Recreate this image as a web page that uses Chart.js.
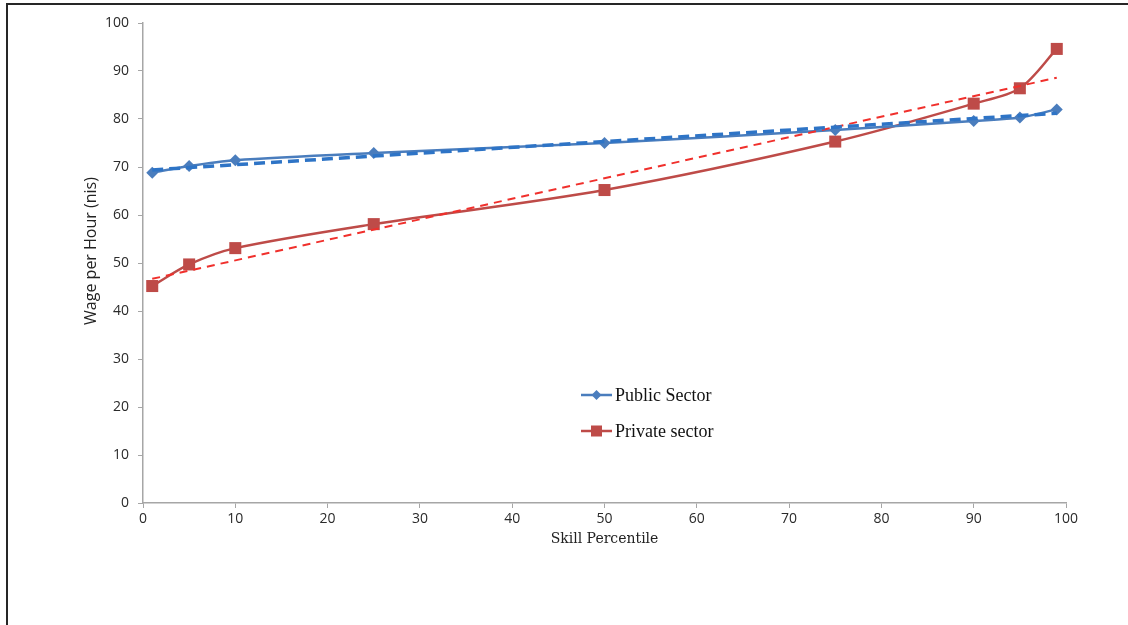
<!DOCTYPE html>
<html>
<head>
<meta charset="utf-8">
<title>Wage per Hour by Skill Percentile</title>
<script src="https://cdn.jsdelivr.net/npm/chart.js@4"></script>
<style>
    html, body { margin: 0; padding: 0; background: #fff; }
    #wrap { position: relative; width: 1128px; height: 625px; overflow: hidden; }
    #frame {
        position: absolute; left: 6px; top: 3px; right: -10px; bottom: -10px;
        border-top: 2px solid #262626; border-left: 2px solid #262626;
        pointer-events: none;
    }
    canvas { position: absolute; left: 0; top: 0; }
</style>
</head>
<body>
<div id="wrap">
    <canvas id="chart" width="1128" height="625"></canvas>
    <div id="frame"></div>
</div>
<script>
// Skill percentiles and hourly wages (nis)
const percentiles = [1, 5, 10, 25, 50, 75, 90, 95, 99];
const publicWage = [68.8, 70.2, 71.4, 72.9, 75.0, 77.7, 79.6, 80.3, 82.0];
const privateWage = [45.2, 49.7, 53.1, 58.1, 65.2, 75.3, 83.2, 86.4, 94.6];

// Linear trend lines (start and end of the fitted lines)
const trendX = [1, 99];
const publicTrend = [69.4, 81.2];
const privateTrend = [46.7, 88.6];

const yTicks = [0, 10, 20, 30, 40, 50, 60, 70, 80, 90, 100];
const xTicks = [0, 10, 20, 30, 40, 50, 60, 70, 80, 90, 100];

const yTitle = 'Wage per Hour (nis)';
const xTitle = 'Skill Percentile';

const toPoints = (xs, ys) => xs.map((x, i) => ({ x: x, y: ys[i] }));

const blue = '#4a7dbd';
const red = '#be4b48';

// Legend drawn inside the plot area
const innerLegend = {
    id: 'innerLegend',
    afterDraw(chart) {
        const ctx = chart.ctx;
        const items = chart.data.datasets.filter(d => d.inLegend);
        const x0 = 581;
        let y = 395;
        ctx.save();
        items.forEach(ds => {
            ctx.strokeStyle = ds.borderColor;
            ctx.lineWidth = 2.5;
            ctx.beginPath();
            ctx.moveTo(x0, y);
            ctx.lineTo(x0 + 31, y);
            ctx.stroke();
            ctx.fillStyle = ds.pointBackgroundColor;
            if (ds.pointStyle === 'rect') {
                ctx.fillRect(x0 + 10, y - 5.5, 11, 11);
            } else {
                ctx.beginPath();
                ctx.moveTo(x0 + 15.5, y - 5);
                ctx.lineTo(x0 + 20.5, y);
                ctx.lineTo(x0 + 15.5, y + 5);
                ctx.lineTo(x0 + 10.5, y);
                ctx.closePath();
                ctx.fill();
            }
            ctx.fillStyle = '#111';
            ctx.font = '18px "Liberation Serif", "DejaVu Serif", serif';
            ctx.textBaseline = 'middle';
            ctx.fillText(ds.label, x0 + 34, y + 1);
            y += 36;
        });
        ctx.restore();
    }
};

// Axis titles placed relative to the plot area
const axisTitles = {
    id: 'axisTitles',
    afterDraw(chart) {
        const ctx = chart.ctx;
        const area = chart.chartArea;
        ctx.save();
        ctx.fillStyle = '#222';
        ctx.textAlign = 'center';
        ctx.textBaseline = 'middle';
        ctx.font = '16px "Open Sans", sans-serif';
        ctx.translate(area.left - 52, (area.top + area.bottom) / 2 - 12);
        ctx.rotate(-Math.PI / 2);
        ctx.fillText(yTitle, 0, 0);
        ctx.restore();

        ctx.save();
        ctx.fillStyle = '#222';
        ctx.textAlign = 'center';
        ctx.textBaseline = 'middle';
        ctx.font = '14px "DejaVu Serif", serif';
        ctx.fillText(xTitle, (area.left + area.right) / 2, area.bottom + 36);
        ctx.restore();
    }
};

new Chart(document.getElementById('chart'), {
    type: 'line',
    data: {
        datasets: [
            {
                label: 'Public Sector trend',
                data: toPoints(trendX, publicTrend),
                borderColor: '#2e74c6',
                borderWidth: 3.5,
                borderDash: [11, 6],
                pointRadius: 0,
                tension: 0
            },
            {
                label: 'Private sector trend',
                data: toPoints(trendX, privateTrend),
                borderColor: '#f0302c',
                borderWidth: 2,
                borderDash: [8, 6],
                pointRadius: 0,
                tension: 0
            },
            {
                label: 'Public Sector',
                inLegend: true,
                data: toPoints(percentiles, publicWage),
                borderColor: blue,
                borderWidth: 2.5,
                pointStyle: 'rectRot',
                pointRadius: 6,
                pointBackgroundColor: blue,
                pointBorderColor: blue,
                pointBorderWidth: 0,
                tension: 0.3
            },
            {
                label: 'Private sector',
                inLegend: true,
                data: toPoints(percentiles, privateWage),
                borderColor: red,
                borderWidth: 2.5,
                pointStyle: 'rect',
                pointRadius: 8.5,
                pointBackgroundColor: red,
                pointBorderColor: red,
                pointBorderWidth: 0,
                tension: 0.3
            }
        ]
    },
    options: {
        responsive: false,
        animation: false,
        layout: { padding: { top: 23, right: 62, left: 0, bottom: 0 } },
        plugins: {
            legend: { display: false },
            tooltip: { enabled: false }
        },
        scales: {
            x: {
                type: 'linear',
                min: 0,
                max: 100,
                afterFit(scale) { scale.height = 122; },
                afterBuildTicks(scale) { scale.ticks = xTicks.map(v => ({ value: v })); },
                grid: { drawOnChartArea: false, tickLength: 5, color: '#a6a6a6' },
                border: { color: '#a6a6a6', width: 1.5 },
                ticks: {
                    color: '#2a2a2a',
                    padding: 3,
                    maxRotation: 0,
                    font: { family: '"Open Sans", sans-serif', size: 14 }
                }
            },
            y: {
                min: 0,
                max: 100,
                afterFit(scale) { scale.width = 143; },
                afterBuildTicks(scale) { scale.ticks = yTicks.map(v => ({ value: v })); },
                grid: { drawOnChartArea: false, tickLength: 5, color: '#a6a6a6' },
                border: { color: '#a6a6a6', width: 1.5 },
                ticks: {
                    color: '#2a2a2a',
                    padding: 9,
                    font: { family: '"Open Sans", sans-serif', size: 14 }
                }
            }
        }
    },
    plugins: [innerLegend, axisTitles]
});
</script>
</body>
</html>
